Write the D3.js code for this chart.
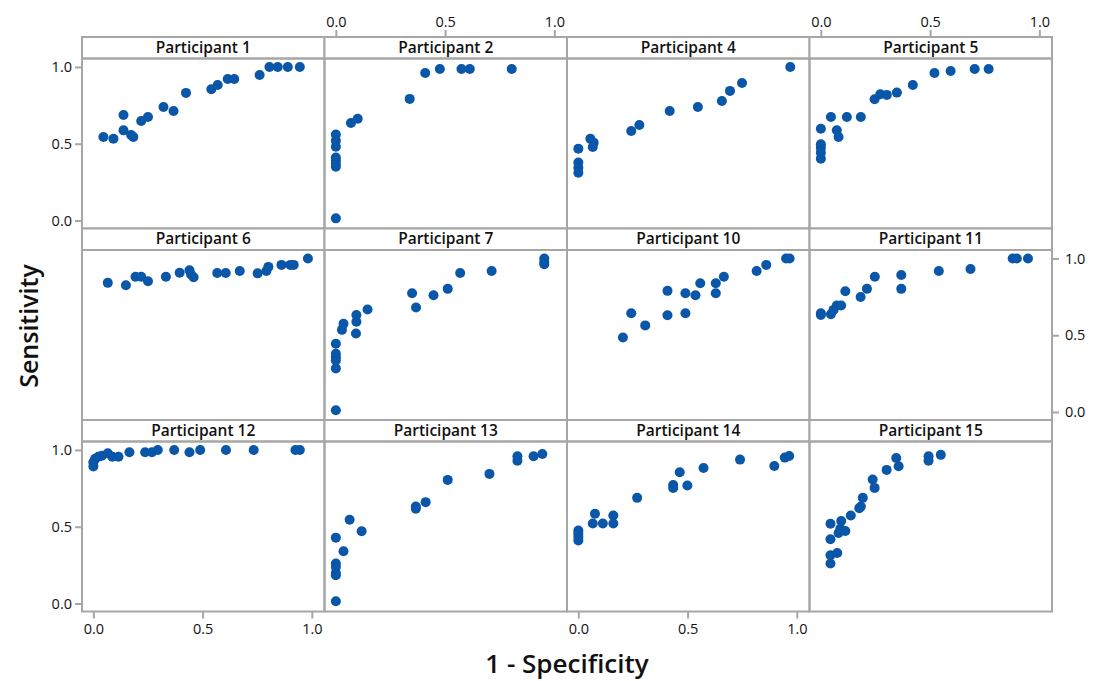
<!DOCTYPE html>
<html>
<head>
<meta charset="utf-8">
<script src="https://cdn.jsdelivr.net/npm/d3@7"></script>
<style>
  body { margin: 0; background: #fff; }
  svg { font-family: "Open Sans", "Noto Sans", sans-serif; }
</style>
</head>
<body>
<svg width="1094" height="681"></svg>
<script>
// названия панелей
const participants = ["Participant 1", "Participant 2", "Participant 4", "Participant 5",
                      "Participant 6", "Participant 7", "Participant 10", "Participant 11",
                      "Participant 12", "Participant 13", "Participant 14", "Participant 15"];

// 1 - Specificity для каждой панели
const fpr = [
  [0.046, 0.092, 0.138, 0.138, 0.173, 0.183, 0.219, 0.25, 0.321, 0.367, 0.424, 0.54, 0.569, 0.615, 0.645, 0.761, 0.806, 0.844, 0.89, 0.945],
  [0, 0, 0, 0, 0, 0, 0, 0, 0.069, 0.1, 0.338, 0.409, 0.476, 0.575, 0.613, 0.805],
  [0, 0, 0, 0, 0.055, 0.07, 0.066, 0.242, 0.279, 0.418, 0.547, 0.657, 0.694, 0.749, 0.97],
  [0, 0, 0, 0, 0, 0.046, 0.073, 0.081, 0.119, 0.183, 0.246, 0.272, 0.302, 0.348, 0.421, 0.52, 0.594, 0.704, 0.768],
  [0.066, 0.149, 0.193, 0.219, 0.25, 0.332, 0.395, 0.44, 0.447, 0.459, 0.567, 0.606, 0.67, 0.752, 0.792, 0.801, 0.861, 0.902, 0.917, 0.982],
  [0, 0, 0, 0, 0, 0, 0.028, 0.035, 0.092, 0.094, 0.094, 0.145, 0.349, 0.367, 0.447, 0.512, 0.569, 0.713, 0.954, 0.954, 0.954],
  [0.204, 0.242, 0.306, 0.408, 0.408, 0.49, 0.49, 0.536, 0.558, 0.629, 0.629, 0.666, 0.816, 0.86, 0.951, 0.967],
  [0, 0, 0.046, 0.058, 0.073, 0.093, 0.112, 0.182, 0.211, 0.247, 0.368, 0.368, 0.54, 0.685, 0.878, 0.897, 0.948],
  [0, 0, 0.008, 0.023, 0.039, 0.066, 0.087, 0.115, 0.165, 0.237, 0.268, 0.295, 0.37, 0.44, 0.489, 0.607, 0.734, 0.925, 0.945],
  [0, 0, 0, 0, 0, 0, 0.035, 0.063, 0.118, 0.366, 0.366, 0.411, 0.512, 0.703, 0.831, 0.831, 0.905, 0.945],
  [0, 0, 0, 0, 0.066, 0.076, 0.112, 0.16, 0.16, 0.269, 0.434, 0.434, 0.464, 0.499, 0.573, 0.74, 0.897, 0.945, 0.965],
  [0.044, 0.044, 0.075, 0.044, 0.044, 0.081, 0.093, 0.112, 0.089, 0.137, 0.176, 0.183, 0.192, 0.237, 0.246, 0.301, 0.345, 0.356, 0.493, 0.493, 0.549]
];

// Sensitivity для каждой панели
const tpr = [
  [0.544, 0.533, 0.687, 0.587, 0.557, 0.544, 0.648, 0.674, 0.739, 0.713, 0.831, 0.855, 0.883, 0.922, 0.922, 0.948, 1.0, 1.0, 1.0, 1.0],
  [0.014, 0.56, 0.52, 0.48, 0.41, 0.39, 0.37, 0.35, 0.635, 0.663, 0.792, 0.961, 0.987, 0.987, 0.987, 0.987],
  [0.468, 0.377, 0.344, 0.311, 0.533, 0.507, 0.479, 0.583, 0.622, 0.713, 0.739, 0.778, 0.844, 0.896, 1.0],
  [0.598, 0.496, 0.474, 0.442, 0.403, 0.674, 0.588, 0.544, 0.674, 0.674, 0.79, 0.822, 0.818, 0.833, 0.883, 0.961, 0.974, 0.987, 0.987],
  [0.841, 0.826, 0.881, 0.881, 0.852, 0.881, 0.907, 0.923, 0.896, 0.878, 0.905, 0.905, 0.918, 0.903, 0.918, 0.945, 0.958, 0.958, 0.958, 1.0],
  [0.011, 0.445, 0.379, 0.357, 0.335, 0.284, 0.535, 0.575, 0.511, 0.588, 0.632, 0.667, 0.773, 0.68, 0.76, 0.802, 0.905, 0.918, 1.0, 0.978, 0.962],
  [0.485, 0.643, 0.564, 0.789, 0.63, 0.773, 0.643, 0.76, 0.839, 0.839, 0.773, 0.881, 0.918, 0.958, 1.0, 1.0],
  [0.632, 0.643, 0.637, 0.665, 0.694, 0.694, 0.786, 0.749, 0.802, 0.881, 0.892, 0.802, 0.918, 0.931, 1.0, 1.0, 1.0],
  [0.892, 0.92, 0.942, 0.956, 0.963, 0.979, 0.956, 0.956, 0.985, 0.985, 0.985, 1.0, 1.0, 0.985, 1.0, 1.0, 1.0, 1.0, 1.0],
  [0.015, 0.429, 0.26, 0.238, 0.199, 0.184, 0.34, 0.545, 0.47, 0.617, 0.632, 0.66, 0.805, 0.844, 0.959, 0.93, 0.959, 0.974],
  [0.476, 0.455, 0.433, 0.411, 0.521, 0.584, 0.521, 0.573, 0.521, 0.688, 0.771, 0.753, 0.855, 0.768, 0.883, 0.937, 0.896, 0.95, 0.961],
  [0.26, 0.314, 0.329, 0.418, 0.519, 0.459, 0.537, 0.472, 0.487, 0.573, 0.621, 0.632, 0.688, 0.807, 0.753, 0.87, 0.948, 0.894, 0.959, 0.93, 0.968]
];

const axisTicks = [0, 0.5, 1];

const svg = d3.select("svg");

// область вывода
const area = {
  left: 82,
  top: 37,
  panelW: 242.5,
  headerH: 21.5,
  plotH: 170,
  cols: 4
};
const rowH = area.headerH + area.plotH;
const frameColor = "#a6a6a6";
const dotColor = "#0a56a8";

const scX = d3.scaleLinear().domain([-0.052, 1.058]).range([0, area.panelW]);
const scY = d3.scaleLinear().domain([-0.052, 1.055]).range([area.plotH, 0]);

const fmt = d3.format(".1f");

participants.forEach((name, i) => {
  const col = i % area.cols;
  const row = Math.floor(i / area.cols);
  const px = area.left + col * area.panelW;
  const py = area.top + row * rowH;

  const g = svg.append("g").attr("transform", `translate(${px}, ${py})`);

  // заголовок панели
  g.append("rect")
    .attr("width", area.panelW)
    .attr("height", area.headerH)
    .attr("fill", "#fff")
    .attr("stroke", frameColor)
    .attr("stroke-width", 2);
  g.append("text")
    .attr("x", area.panelW / 2)
    .attr("y", area.headerH / 2 + 1)
    .attr("text-anchor", "middle")
    .attr("dominant-baseline", "middle")
    .style("font-size", "15.5px")
    .style("font-weight", 600)
    .style("fill", "#111")
    .text(name);

  const plot = g.append("g").attr("transform", `translate(0, ${area.headerH})`);
  plot.append("rect")
    .attr("width", area.panelW)
    .attr("height", area.plotH)
    .attr("fill", "none")
    .attr("stroke", frameColor)
    .attr("stroke-width", 2);

  // точки
  const pts = fpr[i].map((x, k) => ({ x: x, y: tpr[i][k] }));
  plot.selectAll(".dot")
    .data(pts)
    .enter()
    .append("circle")
    .attr("class", "dot")
    .attr("cx", d => scX(d.x))
    .attr("cy", d => scY(d.y))
    .attr("r", 5)
    .style("fill", dotColor);

  // оси: слева у 1 и 3 ряда, справа у 2 ряда, сверху у 2 и 4 колонки, снизу у 1 и 3
  if (col === 0 && row !== 1) {
    const ax = plot.append("g").call(d3.axisLeft(scY).tickValues(axisTicks).tickFormat(fmt).tickSize(7).tickPadding(3));
    styleAxis(ax);
  }
  if (col === area.cols - 1 && row === 1) {
    const ax = plot.append("g").attr("transform", `translate(${area.panelW}, 0)`)
      .call(d3.axisRight(scY).tickValues(axisTicks).tickFormat(fmt).tickSize(7).tickPadding(6));
    styleAxis(ax);
  }
  if (row === 0 && (col === 1 || col === 3)) {
    const ax = g.append("g").call(d3.axisTop(scX).tickValues(axisTicks).tickFormat(fmt).tickSize(7).tickPadding(3));
    styleAxis(ax);
  }
  if (row === 2 && (col === 0 || col === 2)) {
    const ax = plot.append("g").attr("transform", `translate(0, ${area.plotH})`)
      .call(d3.axisBottom(scX).tickValues(axisTicks).tickFormat(fmt).tickSize(7).tickPadding(5));
    styleAxis(ax);
  }
});

function styleAxis(ax) {
  ax.select(".domain").remove();
  ax.selectAll(".tick line").attr("stroke", frameColor).attr("stroke-width", 2);
  ax.selectAll(".tick text")
    .style("font-family", "\"Open Sans\", sans-serif")
    .style("font-size", "14.5px")
    .style("fill", "#111");
}

// подписи осей
svg.append("text")
  .attr("transform", "translate(38, 326) rotate(-90)")
  .attr("text-anchor", "middle")
  .style("font-size", "25px")
  .style("font-weight", 600)
  .style("fill", "#111")
  .text("Sensitivity");

svg.append("text")
  .attr("x", 567)
  .attr("y", 673)
  .attr("text-anchor", "middle")
  .style("font-size", "26px")
  .style("font-weight", 600)
  .style("fill", "#111")
  .text("1 - Specificity");
</script>
</body>
</html>
